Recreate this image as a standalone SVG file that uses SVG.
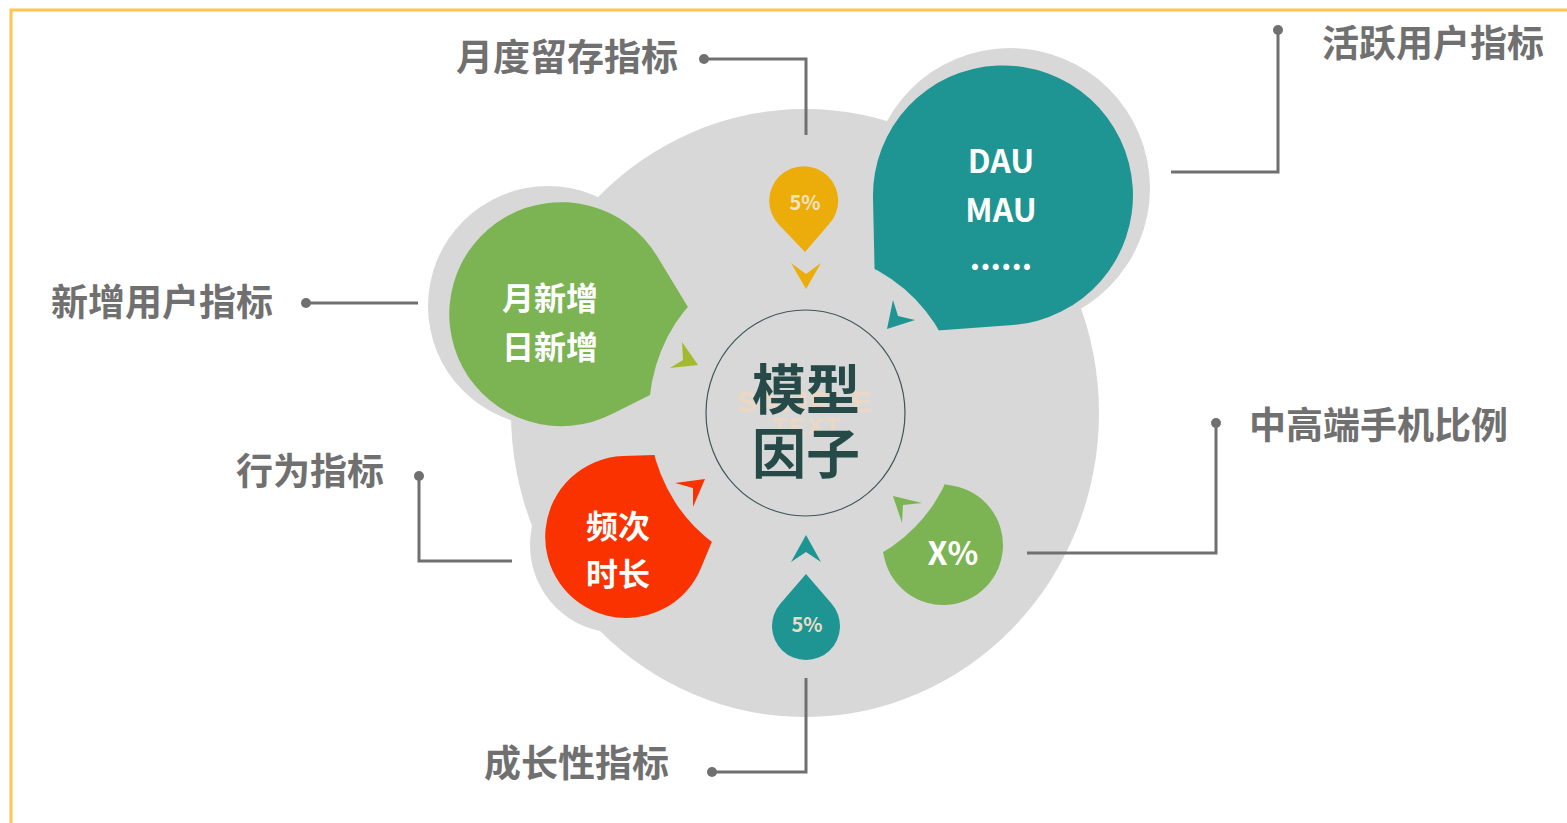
<svg xmlns="http://www.w3.org/2000/svg" width="1567" height="823" viewBox="0 0 1567 823">
<style>
.lbl{font-family:"Noto Sans CJK SC","Noto Sans",sans-serif;font-weight:700;font-size:37px;fill:#707070;dominant-baseline:central}
.wt{font-family:"Noto Sans CJK SC","Noto Sans",sans-serif;font-weight:700;fill:#ffffff;text-anchor:middle;dominant-baseline:central}
.lead{fill:none;stroke:#707070;stroke-width:3}
.dot{fill:#707070}
.halo{fill:#d8d8d8}
</style>
<defs>
<mask id="cut" maskUnits="userSpaceOnUse" x="0" y="0" width="1567" height="823">
<rect x="0" y="0" width="1567" height="823" fill="#fff"/>
<ellipse cx="805" cy="413" rx="156" ry="161" fill="#000"/>
</mask>
</defs>
<rect x="0" y="0" width="1567" height="823" fill="#ffffff"/>
<path d="M11,823 V10 H1567" fill="none" stroke="#fec454" stroke-width="3"/>

<g id="background">
<ellipse cx="805" cy="413" rx="294" ry="304" fill="#d8d8d8"/>
<circle class="halo" cx="548" cy="306" r="120"/>
<circle class="halo" cx="1010" cy="188" r="140"/>
<circle class="halo" cx="618" cy="545" r="88"/>
</g>

<g id="connectors">
<path class="lead" d="M704,59 H806 V135"/><circle class="dot" cx="704" cy="59" r="5"/>
<path class="lead" d="M1171,172 H1278 V30"/><circle class="dot" cx="1278" cy="30" r="5"/>
<path class="lead" d="M306,303 H418"/><circle class="dot" cx="306" cy="303" r="5"/>
<path class="lead" d="M419,476 V561 H512"/><circle class="dot" cx="419" cy="476" r="5"/>
<path class="lead" d="M806,678 V772 H712"/><circle class="dot" cx="712" cy="772" r="5"/>
<path class="lead" d="M1027,553 H1216 V423"/><circle class="dot" cx="1216" cy="423" r="5"/>
</g>

<g id="node-new-users">
<path d="M657,256 L720,360 L612,414 A112 112 0 1 1 657,256 Z" fill="#7cb454" mask="url(#cut)"/>
<text class="wt" x="550" y="296" font-size="32">月新增</text>
<text class="wt" x="550" y="345" font-size="32">日新增</text>
</g>

<g id="node-active-users">
<path d="M1013,325 L876,335 L873,198 A130 130 0 1 1 1013,325 Z" fill="#1e9593" mask="url(#cut)"/>
<text class="wt" x="1001" y="159" font-size="32">DAU</text>
<text class="wt" x="1001" y="208" font-size="32">MAU</text>
<text class="wt" x="1001" y="256" font-size="32">......</text>
</g>

<g id="node-behavior">
<path d="M623,456 L749,452 L701,568 A81 81 0 1 1 623,456 Z" fill="#fa3200" mask="url(#cut)"/>
<text class="wt" x="618" y="524" font-size="32">频次</text>
<text class="wt" x="618" y="572" font-size="32">时长</text>
</g>

<g id="node-highend">
<path d="M884.5,558.4 L864,469 L954.3,486.1 A60 60 0 1 1 884.5,558.4 Z" fill="#7cb454" mask="url(#cut)"/>
<text class="wt" x="953" y="551" font-size="32">X%</text>
</g>

<g id="node-retention">
<path d="M805,252 L778.5,224.3 A34.5 34.5 0 1 1 828.9,224.3 Z" fill="#ecad0a"/>
<text class="wt" x="805" y="201" font-size="20" style="fill:#f3e2c6">5%</text>
</g>

<g id="node-growth">
<path d="M806,574 L831.7,603.8 A34 34 0 1 1 780.3,603.8 Z" fill="#1e9593"/>
<text class="wt" x="807" y="623" font-size="20" style="fill:#e9dcc6">5%</text>
</g>

<g id="arrows">
<path d="M806,289 L791,263 L806,274 L821,263 Z" fill="#ecad0a"/>
<path d="M887,329 L893,300 L898,316 L915,320 Z" fill="#1e9593"/>
<path d="M698,365 L682,342 L683,360 L670,368 Z" fill="#a3b92e"/>
<path d="M705,479 L675,483 L693,488 L693,507 Z" fill="#fa3200"/>
<path d="M893,496 L922,503 L903,505 L902,523 Z" fill="#7cb454"/>
<path d="M806,535 L821,562 L806,552 L791,562 Z" fill="#1e9593"/>
</g>

<g id="node-center">
<ellipse cx="805.5" cy="413" rx="99.5" ry="103" fill="none" stroke="#3f5757" stroke-width="1.2"/>
<text x="805" y="401" font-family="Liberation Sans, sans-serif" font-weight="700" font-size="30" fill="#ecd8c2" text-anchor="middle" dominant-baseline="central" letter-spacing="2">SAMPLE</text>
<text x="807" y="426" font-family="Liberation Sans, sans-serif" font-weight="700" font-size="24" fill="#ecd8c2" text-anchor="middle" dominant-baseline="central" letter-spacing="2">TEXT</text>
<text x="806" y="386" font-family="Noto Sans CJK SC, sans-serif" font-weight="700" font-size="54" fill="#264a48" text-anchor="middle" dominant-baseline="central">模型</text>
<text x="806" y="450" font-family="Noto Sans CJK SC, sans-serif" font-weight="700" font-size="54" fill="#264a48" text-anchor="middle" dominant-baseline="central">因子</text>
</g>

<g id="labels">
<text class="lbl" x="456" y="55">月度留存指标</text>
<text class="lbl" x="1322" y="41">活跃用户指标</text>
<text class="lbl" x="51" y="300">新增用户指标</text>
<text class="lbl" x="236" y="469">行为指标</text>
<text class="lbl" x="484" y="761">成长性指标</text>
<text class="lbl" x="1249" y="423">中高端手机比例</text>
</g>
</svg>
